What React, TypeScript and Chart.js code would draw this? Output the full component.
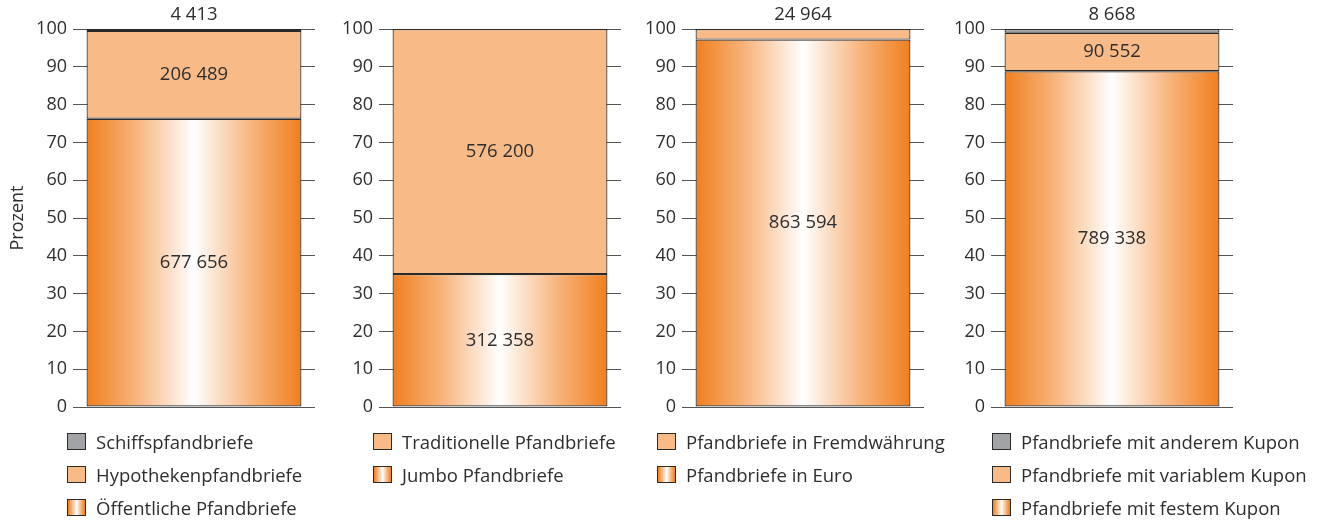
import React, { useEffect, useRef } from "react";
import { Chart, registerables } from "chart.js";

Chart.register(...registerables);

// ---------- DATA ----------
const panel1Labels = ["Öffentliche Pfandbriefe", "Hypothekenpfandbriefe", "Schiffspfandbriefe"];
const panel1Values = [677656, 206489, 4413];

const panel2Labels = ["Jumbo Pfandbriefe", "Traditionelle Pfandbriefe"];
const panel2Values = [312358, 576200];

const panel3Labels = ["Pfandbriefe in Euro", "Pfandbriefe in Fremdwährung"];
const panel3Values = [863594, 24964];

const panel4Labels = [
  "Pfandbriefe mit festem Kupon",
  "Pfandbriefe mit variablem Kupon",
  "Pfandbriefe mit anderem Kupon",
];
const panel4Values = [789338, 90552, 8668];

const yTicks = [0, 10, 20, 30, 40, 50, 60, 70, 80, 90, 100];
const yAxisTitle = "Prozent";

// ---------- STYLE / LAYOUT ----------
const FONT = '"Open Sans", "DejaVu Sans", sans-serif';
const TEXT = "#2e2e2e";
const ORANGE = "#F07F1E";
const LIGHT = "#F8BB87";
const GRAY = "#A2A3A7";
const BORDER = "#2a2a2a";
const GRID = "#555555";
const BAR_PCT = 0.888;
const AXIS_W = 73;
const CANVAS_W = 317;
const CANVAS_H = 430;
const CHART_BOTTOM = 407;
const CANVAS_LEFT = [0, 306, 609, 918];
const LEGEND_LEFT = [67, 373, 657, 992];
const LEGEND_TOP = 433;
const LEGEND_STEP = 33.2;

const panels = [
  { labels: panel1Labels, values: panel1Values },
  { labels: panel2Labels, values: panel2Values },
  { labels: panel3Labels, values: panel3Values },
  { labels: panel4Labels, values: panel4Values },
];

const fmt = (n: number) => String(n).replace(/\B(?=(\d{3})+(?!\d))/g, " ");

function gradientFor(chart: any) {
  const { ctx, chartArea, scales } = chart;
  if (!chartArea || !scales || !scales.x) return ORANGE;
  const cx = scales.x.getPixelForValue(0);
  const w = chartArea.width * BAR_PCT;
  const g = ctx.createLinearGradient(cx - w / 2, 0, cx + w / 2, 0);
  g.addColorStop(0, ORANGE);
  g.addColorStop(0.22, "#F7B177");
  g.addColorStop(0.5, "#FFFFFF");
  g.addColorStop(0.78, "#F7B177");
  g.addColorStop(1, ORANGE);
  return g;
}

const styleKinds = ["gradient", "light", "gray"];

function colorFor(kind: string, chart: any) {
  if (kind === "gradient") return gradientFor(chart);
  if (kind === "light") return LIGHT;
  return GRAY;
}

const valueLabelsPlugin = {
  id: "valueLabels",
  afterDatasetsDraw(chart: any) {
    const { ctx, chartArea } = chart;
    ctx.save();
    ctx.font = `18.5px ${FONT}`;
    ctx.fillStyle = TEXT;
    ctx.textAlign = "center";
    ctx.textBaseline = "middle";
    chart.data.datasets.forEach((ds: any, i: number) => {
      const el = chart.getDatasetMeta(i).data[0];
      if (!el) return;
      const pct = ds.data[0];
      const y = pct < 5 ? chartArea.top - 14 : (el.y + el.base) / 2;
      ctx.fillText(fmt(ds.rawValue), el.x, y);
    });
    ctx.restore();
  },
};

function Panel({ index }: { index: number }) {
  const ref = useRef<HTMLCanvasElement | null>(null);
  const { labels, values } = panels[index];

  useEffect(() => {
    if (!ref.current) return;
    const total = values.reduce((a, b) => a + b, 0);
    const datasets = values.map((v, i) => ({
      label: labels[i],
      data: [(v / total) * 100],
      rawValue: v,
      backgroundColor: (c: any) => colorFor(styleKinds[i], c.chart),
      borderColor: BORDER,
      borderWidth: 1.2,
      borderSkipped: false,
      barPercentage: BAR_PCT,
      categoryPercentage: 1,
    }));
    const chart = new Chart(ref.current, {
      type: "bar",
      data: { labels: [""], datasets },
      options: {
        responsive: false,
        animation: false,
        devicePixelRatio: 1,
        layout: { padding: { top: 29, bottom: CANVAS_H - CHART_BOTTOM, right: 2, left: 0 } },
        plugins: { legend: { display: false }, tooltip: { enabled: false } },
        scales: {
          x: { stacked: true, display: false },
          y: {
            stacked: true,
            min: 0,
            max: 100,
            afterBuildTicks: (s: any) => {
              s.ticks = yTicks.map((v) => ({ value: v }));
            },
            afterFit: (s: any) => {
              s.width = AXIS_W;
            },
            border: { display: false },
            grid: { color: GRID, lineWidth: 1, drawTicks: false },
            ticks: { color: TEXT, font: { family: FONT, size: 18 }, padding: 6 },
            title: {
              display: index === 0,
              text: yAxisTitle,
              color: TEXT,
              font: { family: FONT, size: 18 },
              padding: { top: 7, bottom: 0 },
            },
          },
        },
      } as any,
      plugins: [valueLabelsPlugin],
    } as any);
    return () => chart.destroy();
  }, [index]);

  const legendOrder = labels.map((l, i) => ({ label: l, kind: styleKinds[i] })).reverse();

  return (
    <>
      <canvas
        ref={ref}
        width={CANVAS_W}
        height={CANVAS_H}
        style={{ position: "absolute", left: CANVAS_LEFT[index], top: 0, width: CANVAS_W, height: CANVAS_H }}
      />
      {legendOrder.map((item, r) => (
        <div
          key={r}
          style={{
            position: "absolute",
            left: LEGEND_LEFT[index],
            top: LEGEND_TOP + r * LEGEND_STEP - 4,
            height: 25,
            display: "flex",
            alignItems: "center",
            whiteSpace: "nowrap",
            fontFamily: FONT,
            fontSize: 18.5,
            color: TEXT,
          }}
        >
          <span
            style={{
              display: "inline-block",
              boxSizing: "border-box",
              width: 19,
              height: 17,
              border: `1.5px solid ${BORDER}`,
              background:
                item.kind === "gradient"
                  ? `linear-gradient(to right, ${ORANGE} 0%, #F7B177 22%, #FFFFFF 50%, #F7B177 78%, ${ORANGE} 100%)`
                  : item.kind === "light"
                  ? LIGHT
                  : GRAY,
              marginRight: 10,
            }}
          />
          <span>{item.label}</span>
        </div>
      ))}
    </>
  );
}

export default function App() {
  return (
    <div
      style={{
        position: "fixed",
        left: 0,
        top: 0,
        width: 1323,
        height: 520,
        background: "#ffffff",
        overflow: "hidden",
      }}
    >
      {panels.map((_, i) => (
        <Panel key={i} index={i} />
      ))}
    </div>
  );
}
